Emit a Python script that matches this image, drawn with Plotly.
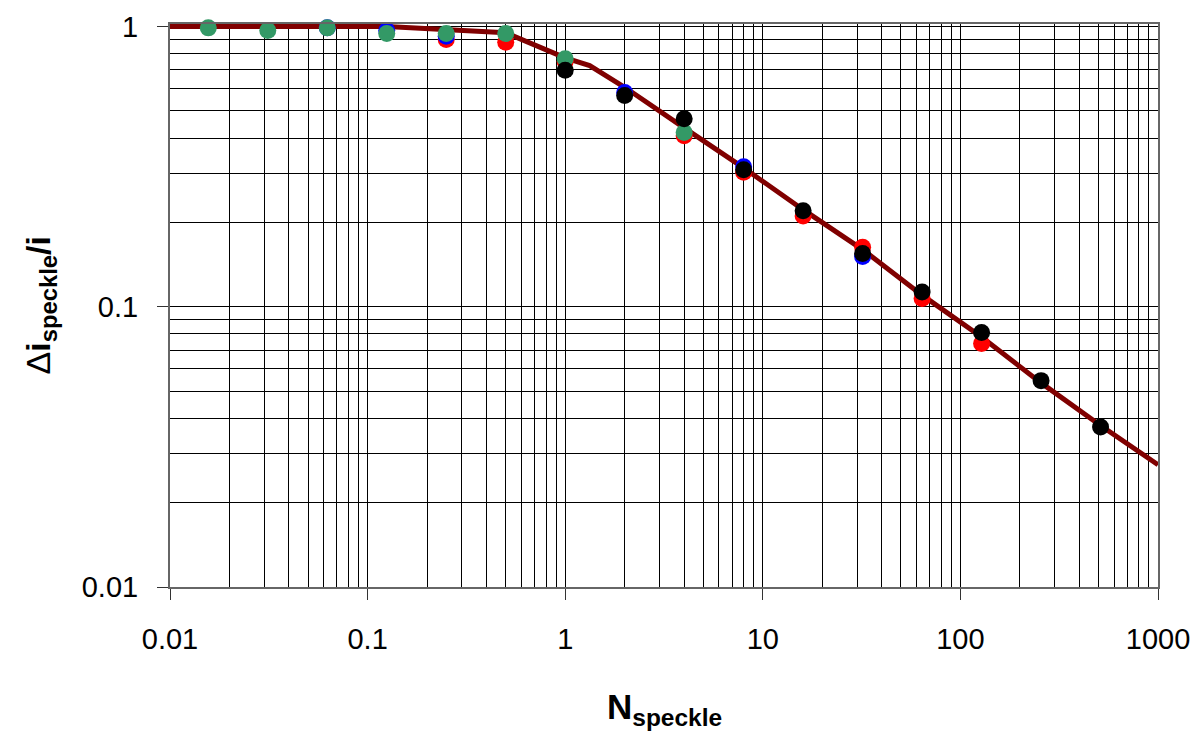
import plotly.graph_objects as go

# ---- data ----
tick_vals_x = [0.01, 0.1, 1, 10, 100, 1000]
tick_text_x = ["0.01", "0.1", "1", "10", "100", "1000"]
tick_vals_y = [0.01, 0.1, 1]
tick_text_y = ["0.01", "0.1", "1"]

curve_N = [0.01, 0.125, 0.5, 1, 1.33, 2, 4, 8, 16, 32, 64, 128, 256, 512, 1000]
curve_v = [1.0, 1.0, 0.95, 0.773, 0.725, 0.607, 0.435, 0.313, 0.222, 0.160, 0.110, 0.078, 0.0535, 0.0377, 0.0273]

red_N = [0.25, 0.5, 1, 4, 8, 16, 32, 64, 128]
red_v = [0.899, 0.879, 0.75, 0.408, 0.302, 0.211, 0.163, 0.107, 0.074]

blue_N = [0.0625, 0.125, 0.25, 2, 8, 32]
blue_v = [0.99, 0.968, 0.923, 0.581, 0.316, 0.151]

green_N = [0.015625, 0.03125, 0.0625, 0.125, 0.25, 0.5, 1, 4]
green_v = [0.989, 0.968, 0.989, 0.944, 0.944, 0.944, 0.767, 0.419]

black_N = [1, 2, 4, 8, 16, 32, 64, 128, 256, 512]
black_v = [0.698, 0.567, 0.469, 0.308, 0.220, 0.155, 0.113, 0.081, 0.0545, 0.0372]

FONT = "Liberation Sans, Arial, sans-serif"

fig = go.Figure()
fig.add_trace(go.Scatter(x=curve_N, y=curve_v, mode="lines",
                         line=dict(color="#800000", width=5), hoverinfo="skip"))
for xs, ys, col in [(red_N, red_v, "#FF0000"), (blue_N, blue_v, "#0000FF"),
                    (green_N, green_v, "#339966"), (black_N, black_v, "#000000")]:
    fig.add_trace(go.Scatter(x=xs, y=ys, mode="markers", cliponaxis=False,
                             marker=dict(color=col, size=17, line=dict(width=0))))

grid_col = "#000000"
fig.update_xaxes(type="log", range=[-2, 3], tickvals=tick_vals_x, ticktext=tick_text_x,
                 ticks="outside", ticklen=11, tickcolor="#333", tickwidth=1,
                 showline=True, linecolor="#666", linewidth=2, mirror=True,
                 showgrid=True, gridcolor=grid_col, gridwidth=1,
                 minor=dict(dtick="D1", showgrid=True, gridcolor=grid_col, gridwidth=1, ticks=""),
                 tickfont=dict(family=FONT, size=29, color="#000"),
                 ticklabelstandoff=14, zeroline=False)
fig.update_yaxes(type="log", range=[-2, 0.009], tickvals=tick_vals_y, ticktext=tick_text_y,
                 ticks="outside", ticklen=11, tickcolor="#333", tickwidth=1,
                 showline=True, linecolor="#666", linewidth=2, mirror=True,
                 showgrid=True, gridcolor=grid_col, gridwidth=1,
                 minor=dict(dtick="D1", showgrid=True, gridcolor=grid_col, gridwidth=1, ticks=""),
                 tickfont=dict(family=FONT, size=29, color="#000"),
                 ticklabelstandoff=13, zeroline=False)

fig.add_annotation(text="<b>N<sub>speckle</sub></b>", xref="paper", yref="paper",
                   x=0.5, y=0, xanchor="center", yanchor="middle", yshift=-122,
                   showarrow=False, font=dict(family=FONT, size=35, color="#000"))
fig.add_annotation(text="Δ<b>i<sub>speckle</sub>/i</b>", xref="paper", yref="paper",
                   x=0, y=0.5, xanchor="center", yanchor="middle", xshift=-130,
                   textangle=-90, showarrow=False, font=dict(family=FONT, size=34, color="#000"))

fig.update_layout(width=1196, height=733, showlegend=False,
                  margin=dict(l=170, r=38, t=24, b=146, autoexpand=False),
                  paper_bgcolor="white", plot_bgcolor="white")

fig.write_html("out.html")
